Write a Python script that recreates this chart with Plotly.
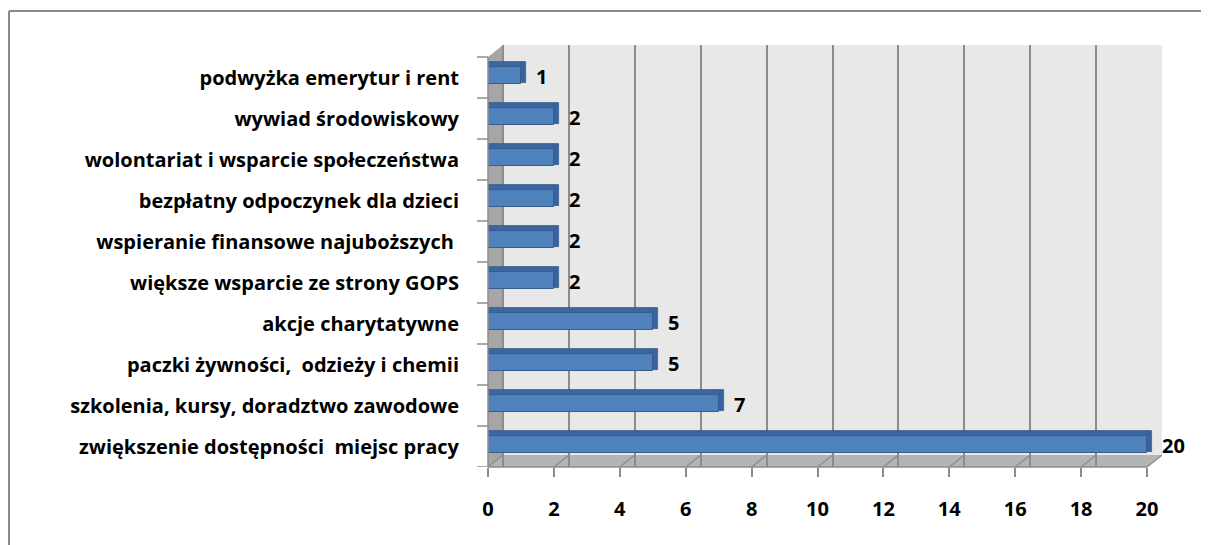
import plotly.graph_objects as go

categories = [
    "zwiększenie dostępności  miejsc pracy",
    "szkolenia, kursy, doradztwo zawodowe",
    "paczki żywności,  odzieży i chemii",
    "akcje charytatywne",
    "większe wsparcie ze strony GOPS",
    "wspieranie finansowe najuboższych ",
    "bezpłatny odpoczynek dla dzieci",
    "wolontariat i wsparcie społeczeństwa",
    "wywiad środowiskowy",
    "podwyżka emerytur i rent",
]
values = [20, 7, 5, 5, 2, 2, 2, 2, 2, 1]
x_ticks = [0, 2, 4, 6, 8, 10, 12, 14, 16, 18, 20]

O = 8                               # page body margin offset
W, H = 1209 - O, 545 - O
L, R, T, B = 488 - O, 1162 - O, 45 - O, 467 - O  # plot area in figure px
DX, DY = 15, 12                     # 3D depth offset in px
FONT = "Open Sans"
FS = 20

pw, ph = R - L, B - T
ppu = (R - DX - L) / 20.0
off_units = DX / ppu
band = (B - (T + DY)) / len(categories)
y_top = -0.5 + ph / band
side_len = [5 / ppu] * len(values)   # depth of the bar's right face, in value units

def px(xp):
    return (xp - L) / pw

def py(yp):
    return (B - yp) / ph

ypos = list(range(len(categories)))
fig = go.Figure()

# front face
fig.add_trace(go.Bar(
    y=ypos, x=values, orientation="h",
    width=0.415, offset=-0.16,
    marker=dict(color="#4f81bd", line=dict(color="#385d8a", width=1)),
    hoverinfo="skip", showlegend=False,
))
# top face
fig.add_trace(go.Bar(
    y=ypos, x=values, orientation="h",
    width=0.12, offset=0.255,
    marker=dict(color="#3c66a0", line=dict(color="#385d8a", width=0.8)),
    hoverinfo="skip", showlegend=False,
))
# right face
fig.add_trace(go.Bar(
    y=ypos, x=side_len, base=values, orientation="h",
    width=0.5, offset=-0.125,
    marker=dict(color="#3a62a0", line=dict(color="#385d8a", width=0.8)),
    hoverinfo="skip", showlegend=False,
))
fig.add_trace(go.Scatter(x=[None], y=[None], xaxis="x2", showlegend=False))

shapes = []
shapes.append(dict(type="rect", xref="paper", yref="paper", layer="below",
                   x0=px(L + DX), x1=px(R), y0=py(B - DY), y1=py(T),
                   fillcolor="#e8e8e8", line=dict(width=0)))
shapes.append(dict(type="path", xref="paper", yref="paper", layer="below",
                   path=f"M {px(L)},{py(B)} L {px(L + DX)},{py(B - DY)} L {px(L + DX)},{py(T)} L {px(L)},{py(T + DY)} Z",
                   fillcolor="#a6a6a6", line=dict(width=0)))
shapes.append(dict(type="path", xref="paper", yref="paper", layer="below",
                   path=f"M {px(L)},{py(B)} L {px(R - DX)},{py(B)} L {px(R)},{py(B - DY)} L {px(L + DX)},{py(B - DY)} Z",
                   fillcolor="#b4b4b4", line=dict(width=0)))
for v in x_ticks:
    shapes.append(dict(type="line", xref="x", yref="paper", layer="below",
                       x0=v, x1=v + off_units, y0=py(B), y1=py(B - DY),
                       line=dict(color="#8c8c8c", width=1.5)))
shapes.append(dict(type="line", xref="paper", yref="paper",
                   x0=px(L), x1=px(R - DX), y0=py(B), y1=py(B),
                   line=dict(color="#8c8c8c", width=1.5)))
shapes.append(dict(type="line", xref="paper", yref="paper",
                   x0=px(L), x1=px(L), y0=py(B), y1=py(T + DY),
                   line=dict(color="#8c8c8c", width=1.5)))
# outer chart border: top and left edges only
shapes.append(dict(type="line", xref="paper", yref="paper",
                   x0=px(1), x1=px(W + 20), y0=py(11 - O), y1=py(11 - O),
                   line=dict(color="#8a8a8a", width=2)))
shapes.append(dict(type="line", xref="paper", yref="paper",
                   x0=px(1), x1=px(1), y0=py(11 - O), y1=py(H + 20),
                   line=dict(color="#8a8a8a", width=2)))
for k in range(len(categories) + 1):
    shapes.append(dict(type="line", xref="paper", yref="y",
                       x0=px(L - 11), x1=px(L), y0=k - 0.5, y1=k - 0.5,
                       line=dict(color="#8c8c8c", width=1.5)))

annotations = []
for i, v in enumerate(values):
    annotations.append(dict(x=v, y=i, xref="x", yref="y", text=str(v),
                            showarrow=False, xanchor="left", xshift=13, yshift=1,
                            font=dict(family=FONT, size=FS, color="#000000", weight="bold")))

fig.update_layout(
    width=W, height=H,
    margin=dict(l=L, r=W - R, t=T, b=H - B, pad=0),
    paper_bgcolor="white", plot_bgcolor="rgba(0,0,0,0)",
    barmode="overlay", bargap=0,
    font=dict(family=FONT, size=FS, color="#000000"),
    shapes=shapes, annotations=annotations,
    xaxis=dict(range=[0, 20 + off_units], tickvals=x_ticks,
               ticktext=[str(t) for t in x_ticks],
               showgrid=False, zeroline=False, showline=False,
               ticks="outside", ticklen=9, tickwidth=1.5, tickcolor="#8c8c8c",
               ticklabelstandoff=15,
               tickfont=dict(family=FONT, size=FS, color="#000000", weight="bold")),
    xaxis2=dict(overlaying="x", range=[-off_units, 20], tickvals=x_ticks,
                showticklabels=False, showgrid=True, gridcolor="#8c8c8c", gridwidth=1.5,
                zeroline=False, showline=False, side="bottom"),
    yaxis=dict(range=[-0.5, y_top], tickvals=ypos,
               ticktext=categories, showgrid=False, zeroline=False, showline=False,
               ticks="", ticklabelstandoff=28,
               tickfont=dict(family=FONT, size=FS, color="#000000", weight="bold")),
)

fig.write_html("out.html")
